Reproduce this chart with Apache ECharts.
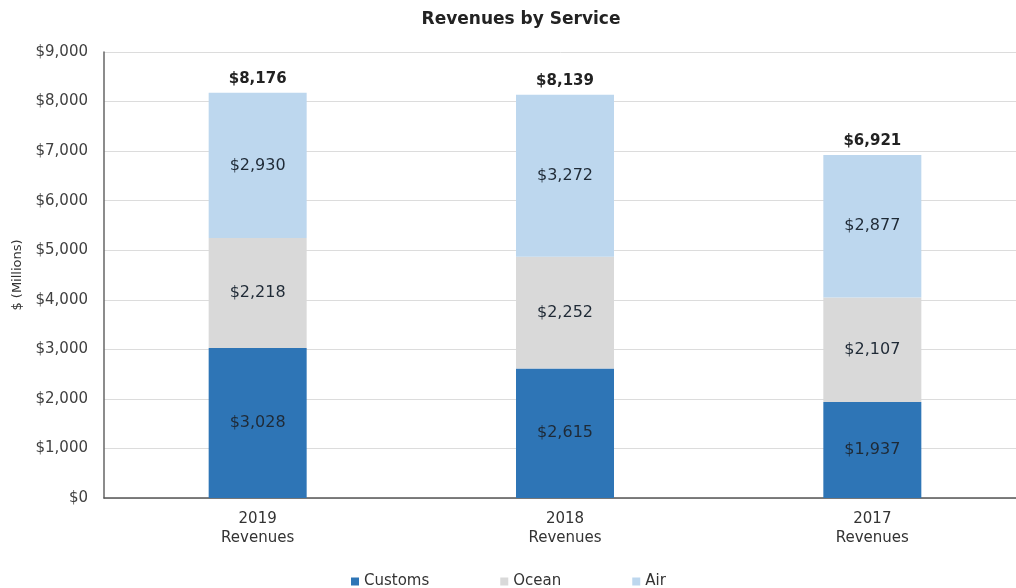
<!DOCTYPE html>
<html>
<head>
<meta charset="utf-8">
<script src="https://cdn.jsdelivr.net/npm/echarts@6/dist/echarts.min.js"></script>
<style>
  html, body { margin: 0; padding: 0; background: #ffffff; }
  #chart { width: 1016px; height: 588px; }
</style>
</head>
<body>
<div id="chart"></div>
<script>
// Revenues by service line, $ millions
const categories = ['2019\nRevenues', '2018\nRevenues', '2017\nRevenues'];
const customs = [3028, 2615, 1937];
const ocean = [2218, 2252, 2107];
const air = [2930, 3272, 2877];
const totals = categories.map((_, i) => customs[i] + ocean[i] + air[i]);
const yTicks = { min: 0, max: 9000, interval: 1000 };

const FONT = '"DejaVu Sans", Verdana, sans-serif';
const money = v => '$' + Number(v).toLocaleString('en-US');

const chart = echarts.init(document.getElementById('chart'));

const segLabel = {
  show: true,
  position: 'inside',
  color: '#1f2a36',
  fontFamily: FONT,
  fontSize: 16,
  formatter: p => money(p.value)
};

chart.setOption({
  animation: false,
  backgroundColor: '#ffffff',
  textStyle: { fontFamily: FONT },
  title: {
    text: 'Revenues by Service',
    left: 516,
    textAlign: 'center',
    top: 6,
    textStyle: { fontFamily: FONT, fontSize: 17, fontWeight: 'bold', color: '#222' }
  },
  legend: {
    left: 346,
    top: 569,
    itemWidth: 8,
    itemHeight: 8,
    itemGap: 71,
    icon: 'rect',
    data: ['Customs', 'Ocean', 'Air'],
    textStyle: { fontFamily: FONT, fontSize: 15, color: '#333', padding: [0, 0, 0, 0] }
  },
  grid: { left: 104, width: 922, top: 52, bottom: 90, outerBoundsMode: 'none', containLabel: false },
  xAxis: {
    type: 'category',
    data: categories,
    axisLine: { lineStyle: { color: '#555', width: 1.5 } },
    axisTick: { show: false },
    axisLabel: { fontFamily: FONT, fontSize: 15, color: '#333', lineHeight: 19, margin: 12 }
  },
  yAxis: {
    type: 'value',
    min: yTicks.min,
    max: yTicks.max,
    interval: yTicks.interval,
    name: '$ (Millions)',
    nameLocation: 'middle',
    nameGap: 80,
    nameRotate: 90,
    nameTextStyle: { fontFamily: FONT, fontSize: 13, color: '#333' },
    axisLine: { show: true, lineStyle: { color: '#666', width: 1.5 } },
    axisTick: { show: false },
    splitLine: { lineStyle: { color: '#dcdcdc', width: 1 } },
    axisLabel: { fontFamily: FONT, fontSize: 15, color: '#404040', margin: 16, formatter: v => money(v) }
  },
  series: [
    {
      name: 'Customs', type: 'bar', stack: 'rev', data: customs,
      barWidth: 98, itemStyle: { color: '#2e75b6' }, label: segLabel
    },
    {
      name: 'Ocean', type: 'bar', stack: 'rev', data: ocean,
      barWidth: 98, itemStyle: { color: '#d9d9d9' }, label: segLabel
    },
    {
      name: 'Air', type: 'bar', stack: 'rev', data: air,
      barWidth: 98, itemStyle: { color: '#bdd7ee' }, label: segLabel
    },
    {
      // zero-height cap carrying the stacked total above each bar
      name: 'Total', type: 'bar', stack: 'rev',
      data: totals.map(() => 0),
      barWidth: 98, itemStyle: { color: 'transparent' },
      label: {
        show: true, position: 'top', distance: 6,
        fontFamily: FONT, fontSize: 15, fontWeight: 'bold', color: '#222',
        formatter: p => money(totals[p.dataIndex])
      }
    }
  ]
});
</script>
</body>
</html>
